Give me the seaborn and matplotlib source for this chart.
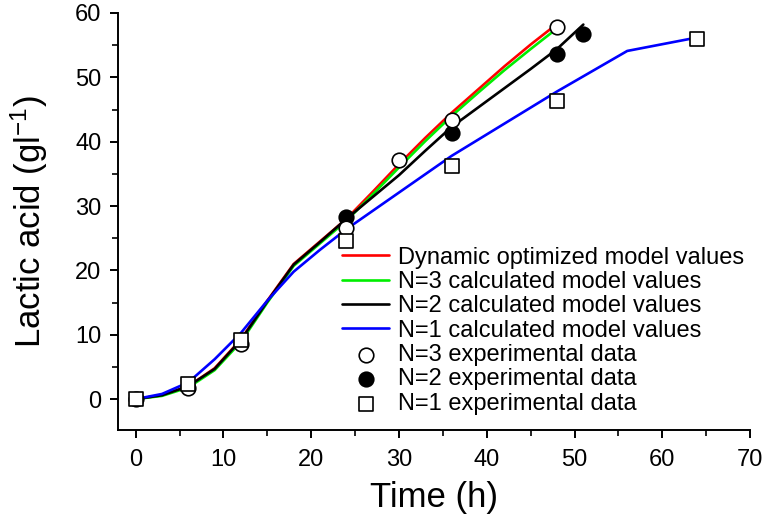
import numpy as np
import pandas as pd
import matplotlib
matplotlib.use("Agg")
import matplotlib.pyplot as plt
from matplotlib.ticker import MultipleLocator
import seaborn as sns

# model curves
t_red = [0, 3, 6, 9, 12, 15, 18, 21, 24, 27, 30, 33, 36, 39, 42, 45, 48]
y_red = [0, 0.6, 2.0, 4.8, 9.3, 15.3, 21.0, 24.5, 28.0, 32.2, 36.5, 40.6, 44.5, 48.1, 51.7, 55.1, 58.3]

t_green = [0, 3, 6, 9, 12, 15, 18, 21, 24, 27, 30, 33, 36, 39, 42, 45, 48]
y_green = [0, 0.5, 1.8, 4.5, 8.9, 15.0, 20.7, 24.2, 27.7, 31.8, 36.0, 40.1, 44.0, 47.6, 51.1, 54.4, 57.6]

t_black = [0, 3, 6, 9, 12, 15, 18, 21, 24, 27, 30, 33, 36, 39, 42, 45, 48, 51]
y_black = [0, 0.6, 2.0, 4.7, 9.2, 15.2, 20.9, 24.4, 28.0, 31.4, 34.8, 38.6, 42.3, 45.3, 48.3, 51.3, 54.4, 58.2]

t_blue = [0, 3, 6, 9, 12, 15, 18, 21, 24, 30, 36, 42, 48, 56, 64]
y_blue = [0, 0.8, 2.6, 6.2, 10.3, 15.3, 19.8, 23.2, 26.4, 32.1, 37.8, 42.8, 47.8, 54.1, 56.2]

# experimental points
t_exp3 = [0, 6, 12, 24, 30, 36, 48]
y_exp3 = [0, 1.8, 8.5, 26.6, 37.2, 43.3, 57.8]

t_exp2 = [24, 36, 48, 51]
y_exp2 = [28.3, 41.3, 53.6, 56.8]

t_exp1 = [0, 6, 12, 24, 36, 48, 64]
y_exp1 = [0, 2.3, 9.2, 24.6, 36.2, 46.3, 56.0]

sns.set_style("ticks")
plt.rcParams["font.family"] = ["Liberation Sans", "DejaVu Sans"]
plt.rcParams["mathtext.fontset"] = "custom"
plt.rcParams["mathtext.rm"] = "Liberation Sans"
plt.rcParams["mathtext.it"] = "Liberation Sans"
plt.rcParams["text.color"] = "black"
plt.rcParams["axes.labelcolor"] = "black"
plt.rcParams["xtick.color"] = "black"
plt.rcParams["ytick.color"] = "black"

fig, ax = plt.subplots(figsize=(7.67, 5.19), dpi=100)
fig.subplots_adjust(left=0.154, right=0.978, bottom=0.1715, top=0.975)

lw = 1.9
sns.lineplot(x=t_red, y=y_red, color="#ff0000", lw=lw, ax=ax, label="Dynamic optimized model values")
sns.lineplot(x=t_green, y=y_green, color="#00ee00", lw=lw, ax=ax, label="N=3 calculated model values")
sns.lineplot(x=t_black, y=y_black, color="black", lw=lw, ax=ax, label="N=2 calculated model values")
sns.lineplot(x=t_blue, y=y_blue, color="#0000ff", lw=lw, ax=ax, label="N=1 calculated model values")

sns.scatterplot(x=t_exp2, y=y_exp2, marker="o", s=110, color="black", edgecolor="black",
                linewidth=1.2, ax=ax, label="N=2 experimental data", zorder=5)
sns.scatterplot(x=t_exp3, y=y_exp3, marker="o", s=110, color="white", edgecolor="black",
                linewidth=1.2, ax=ax, label="N=3 experimental data", zorder=6)
sns.scatterplot(x=t_exp1, y=y_exp1, marker="s", s=95, color="white", edgecolor="black",
                linewidth=1.2, ax=ax, label="N=1 experimental data", zorder=7)

ax.set_xlim(-2, 70)
ax.set_ylim(-4.8, 60)
ax.xaxis.set_major_locator(MultipleLocator(10))
ax.xaxis.set_minor_locator(MultipleLocator(5))
ax.yaxis.set_major_locator(MultipleLocator(10))
ax.yaxis.set_minor_locator(MultipleLocator(5))
sns.despine(ax=ax)
for s in ["left", "bottom"]:
    ax.spines[s].set_linewidth(1.4)
    ax.spines[s].set_color("black")
ax.tick_params(which="major", length=6, width=1.4, labelsize=17, color="black")
ax.tick_params(which="minor", length=4, width=1.2, color="black")
ax.tick_params(axis="x", pad=8)
ax.tick_params(axis="y", pad=6)

ax.set_xlabel("Time (h)", fontsize=25, labelpad=7)
ax.set_ylabel("Lactic acid (gl$^{-1}$)", fontsize=25, labelpad=18)

handles, labels = ax.get_legend_handles_labels()
order = [0, 1, 2, 3, 5, 4, 6]
ax.legend([handles[i] for i in order], [labels[i] for i in order],
          loc="lower right", bbox_to_anchor=(0.985, 0.178), bbox_transform=fig.transFigure,
          frameon=False, fontsize=17, labelspacing=0.1, handlelength=2.0,
          handletextpad=0.35, borderpad=0, markerscale=1.0)

fig.savefig("out.png", dpi=100)
